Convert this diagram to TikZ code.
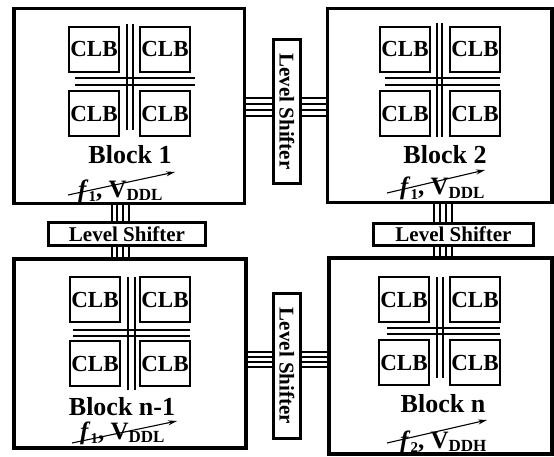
\documentclass[tikz,border=0pt]{standalone}
\usepackage{fontspec}
\setmainfont{Liberation Serif}
\usetikzlibrary{arrows.meta}
\newcommand{\fvlabel}[2]{\textit{f}\raisebox{-0.35ex}{\fontsize{15}{15}\selectfont #1}, V\raisebox{-0.3ex}{\fontsize{17}{17}\selectfont #2}}
\tikzset{
  blockbox/.style={draw=black, line width=3.5pt, fill=white, inner sep=0pt},
  clb/.style={draw=black, line width=1.8pt, minimum width=50pt, minimum height=45pt, inner sep=0pt, font=\fontsize{23}{23}\selectfont\bfseries},
  lsbox/.style={draw=black, line width=3pt, fill=white, inner sep=0pt, font=\fontsize{21}{21}\selectfont\bfseries},
  bus/.style={draw=black, line width=1.2pt},
  chan/.style={draw=black, line width=1.3pt},
  blabel/.style={font=\fontsize{26}{26}\selectfont\bfseries, inner sep=0pt},
  fvnode/.style={font=\fontsize{25}{25}\selectfont\bfseries, inner sep=0pt, anchor=base west},
  freq/.style={draw=black, line width=1.1pt, -{Stealth[length=9pt,width=5pt]}}
}
\begin{document}
\begin{tikzpicture}[x=1pt,y=-1pt]
\useasboundingbox (0,0) rectangle (554,457);
% blocks
\node[blockbox, minimum width=230.5pt, minimum height=195pt] (b1) at (129.25,106) {};
\node[blockbox, minimum width=224.5pt, minimum height=194pt] (b2) at (439.75,105.5) {};
\node[blockbox, minimum width=232pt, minimum height=189pt] (bn1) at (130,353.5) {};
\node[blockbox, minimum width=223pt, minimum height=196pt] (bn) at (440.5,356) {};
% level shifters
\node[lsbox, minimum width=27pt, minimum height=144pt] (lsa) at (287,111.5) {\rotatebox{-90}{Level Shifter}};
\node[lsbox, minimum width=27pt, minimum height=145pt] (lsd) at (287,366) {\rotatebox{-90}{Level Shifter}};
\node[lsbox, minimum width=157pt, minimum height=23pt] (lsb) at (127,234) {Level Shifter};
\node[lsbox, minimum width=160pt, minimum height=22pt] (lsc) at (453.5,234.5) {Level Shifter};
% buses
\foreach \yy in {98,104,110,116} {
  \draw[bus] (b1.east |- 0,\yy) -- (lsa.west |- 0,\yy);
  \draw[bus] (lsa.east |- 0,\yy) -- (b2.west |- 0,\yy);
}
\foreach \yy in {352,357,362,367} {
  \draw[bus] (bn1.east |- 0,\yy) -- (lsd.west |- 0,\yy);
  \draw[bus] (lsd.east |- 0,\yy) -- (bn.west |- 0,\yy);
}
\foreach \xx in {112,117,123,129} {
  \draw[bus] (b1.south -| \xx,0) -- (lsb.north -| \xx,0);
  \draw[bus] (lsb.south -| \xx,0) -- (bn1.north -| \xx,0);
}
\foreach \xx in {434,440,446,452} {
  \draw[bus] (b2.south -| \xx,0) -- (lsc.north -| \xx,0);
  \draw[bus] (lsc.south -| \xx,0) -- (bn.north -| \xx,0);
}
% routing channels
\draw[chan] (127,24) -- (127,130) (133,24) -- (133,130) (75,78) -- (195,78) (75,85) -- (195,85);
\draw[chan] (437,23) -- (437,137) (442,23) -- (442,137) (385,78) -- (500,78) (385,85) -- (500,85);
\draw[chan] (128,277) -- (128,390) (135,277) -- (135,390) (73,330) -- (190,330) (73,336) -- (190,336);
\draw[chan] (437,277) -- (437,378) (443,277) -- (443,378) (387,328) -- (500,328) (387,334) -- (500,334);
% CLBs
\node[clb, fill=white] (c11) at (94,49.5) {CLB};
\node[clb, fill=white] (c12) at (165,49.5) {CLB};
\node[clb, fill=white] (c13) at (94,113.5) {CLB};
\node[clb, fill=white] (c14) at (165,113.5) {CLB};
\node[clb, fill=white] (c21) at (405,49.5) {CLB};
\node[clb, fill=white] (c22) at (475,49.5) {CLB};
\node[clb, fill=white] (c23) at (405,113.5) {CLB};
\node[clb, fill=white] (c24) at (475,113.5) {CLB};
\node[clb, fill=white] (c31) at (95,299.5) {CLB};
\node[clb, fill=white] (c32) at (165,299.5) {CLB};
\node[clb, fill=white] (c33) at (95,363.5) {CLB};
\node[clb, fill=white] (c34) at (165,363.5) {CLB};
\node[clb, fill=white] (c41) at (404,299.5) {CLB};
\node[clb, fill=white] (c42) at (475,299.5) {CLB};
\node[clb, fill=white] (c43) at (404,362.5) {CLB};
\node[clb, fill=white] (c44) at (475,362.5) {CLB};
% block labels
\node[blabel] (l1) at (130,155) {Block 1};
\node[blabel] (l2) at (445,155) {Block 2};
\node[blabel] (l3) at (122,407) {Block n-1};
\node[blabel] (l4) at (443,404) {Block n};
% frequency / voltage labels
\node[fvnode] (fv1) at (78,197) {\fvlabel{1}{DDL}};
\node[fvnode] (fv2) at (400,195) {\fvlabel{1}{DDL}};
\node[fvnode] (fv3) at (80,439) {\fvlabel{1}{DDL}};
\node[fvnode] (fv4) at (400,448) {\fvlabel{2}{DDH}};
% arrows
\coordinate (a1s) at (68,195); \coordinate (a1e) at (175,172);
\coordinate (a2s) at (387,193); \coordinate (a2e) at (485,170);
\coordinate (a3s) at (72,443); \coordinate (a3e) at (177,421);
\coordinate (a4s) at (387,443); \coordinate (a4e) at (487,420);
\draw[freq] (a1s) -- (a1e);
\draw[freq] (a2s) -- (a2e);
\draw[freq] (a3s) -- (a3e);
\draw[freq] (a4s) -- (a4e);
\end{tikzpicture}
\end{document}
